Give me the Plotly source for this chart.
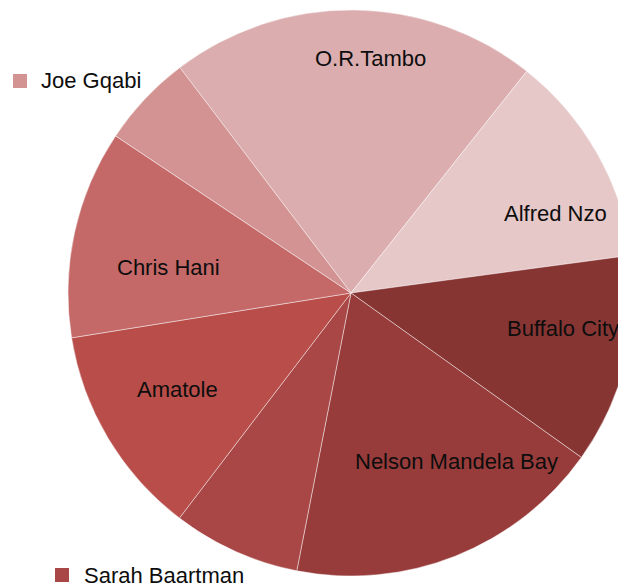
import plotly.graph_objects as go

# ---- data ----
districts = ["O.R.Tambo", "Alfred Nzo", "Buffalo City", "Nelson Mandela Bay",
             "Sarah Baartman", "Amatole", "Chris Hani", "Joe Gqabi"]
shares = [21.0, 12.2, 12.0, 18.2, 7.3, 12.1, 11.9, 5.3]

# ---- style ----
colors = ["#DBADAE", "#E6C8C9", "#873533", "#973C3B",
          "#A94746", "#B84D4A", "#C46868", "#D29392"]
W, H = 626, 586
PAGE_OFF = 8  # page body margin offset of the figure in the browser window
FONT = "Liberation Sans, Arial, sans-serif"
FSIZE = 22


def px(x):
    return (x - PAGE_OFF) / W


def py(y):
    return 1 - (y - PAGE_OFF) / H


# label positions in window pixels (centre of text) for in-slice labels
inside_labels = {
    "O.R.Tambo": (370, 58),
    "Alfred Nzo": (555, 213),
    "Buffalo City": (563, 328),
    "Nelson Mandela Bay": (456, 461),
    "Amatole": (177, 389),
    "Chris Hani": (168, 267),
}
# legend-style labels: (square x0, y0, size, text left x, text centre y)
legend_labels = {
    "Joe Gqabi": (13, 74, 14, 39, 81),
    "Sarah Baartman": (55, 568, 14, 82, 575),
}
# pie disc in window pixels: centre x, centre y, radius
CX, CY, R = 351, 293, 283

fig = go.Figure(go.Pie(
    labels=districts,
    values=shares,
    sort=False,
    direction="clockwise",
    rotation=-37.2,
    marker=dict(colors=colors, line=dict(color="rgba(255,255,255,0.55)", width=0.8)),
    textinfo="none",
    hoverinfo="label+percent",
    domain=dict(x=[max(0.0, px(CX - R)), min(1.0, px(CX + R))],
                y=[py(CY + R), min(1.0, py(CY - R))]),
    showlegend=False,
))

annotations = []
for name, (x, y) in inside_labels.items():
    annotations.append(dict(
        text=name, x=px(x), y=py(y), xref="paper", yref="paper",
        xanchor="center", yanchor="middle", showarrow=False,
        font=dict(family=FONT, size=FSIZE, color="#0d0d0d"),
    ))
shapes = []
for name, (sx, sy, s, tx, ty) in legend_labels.items():
    col = colors[districts.index(name)]
    shapes.append(dict(type="rect", xref="paper", yref="paper",
                       x0=px(sx), x1=px(sx + s), y0=py(sy), y1=py(sy + s),
                       fillcolor=col, line=dict(width=0)))
    annotations.append(dict(
        text=name, x=px(tx), y=py(ty), xref="paper", yref="paper",
        xanchor="left", yanchor="middle", showarrow=False,
        font=dict(family=FONT, size=FSIZE, color="#0d0d0d"),
    ))

fig.update_layout(
    width=W, height=H,
    margin=dict(l=0, r=0, t=0, b=0),
    paper_bgcolor="white", plot_bgcolor="white",
    annotations=annotations, shapes=shapes,
)

fig.write_html(
    "out.html",
    post_script="document.documentElement.style.overflow='hidden';"
                "document.body.style.overflow='hidden';",
)
